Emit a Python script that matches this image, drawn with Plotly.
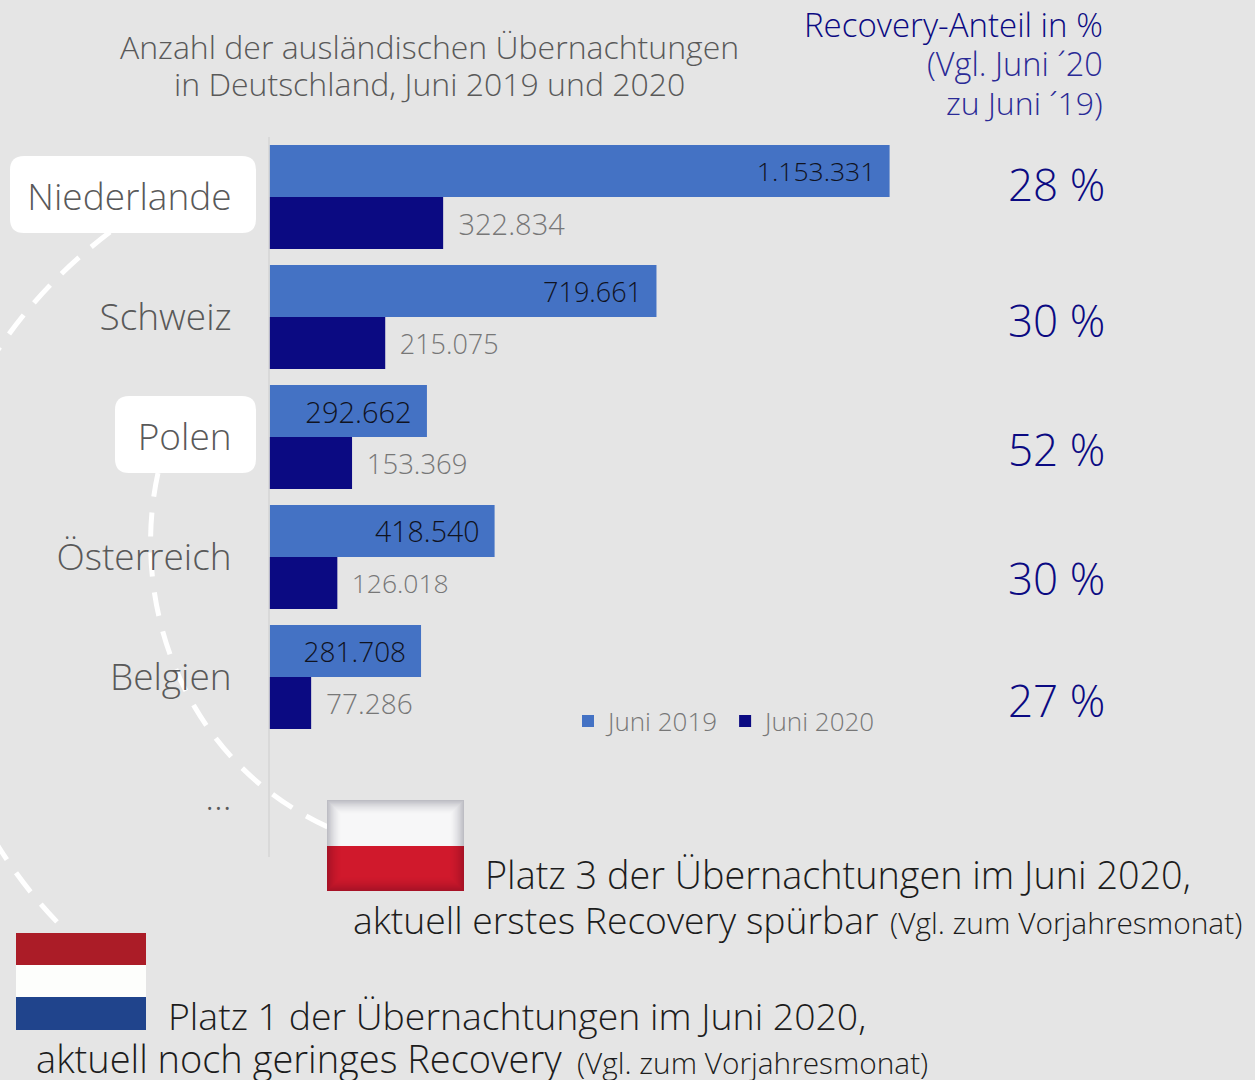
import plotly.graph_objects as go

W, H = 1255, 1080
FONT = "Open Sans"
BG = "#e5e5e5"

categories = ["Niederlande", "Schweiz", "Polen", "Österreich", "Belgien", "..."]
juni_2019 = [1153331, 719661, 292662, 418540, 281708, None]
juni_2020 = [322834, 215075, 153369, 126018, 77286, None]
recovery = [28, 30, 52, 30, 27]
recovery_y = [184, 320, 449, 578, 700]
label_sizes_2019 = [26.5, 27, 29, 28.5, 28, 28]
label_sizes_2020 = [29, 27, 27.5, 26.5, 28, 28]

def fmt(v):
    return f"{v:,}".replace(",", ".") if v is not None else ""

def px(x): return x / W
def py(y): return 1 - y / H

NB = "\u00a0"
TH = "\u2009"
fig = go.Figure()
fig.add_trace(go.Bar(
    name="Juni 2019", y=categories, x=juni_2019, orientation="h",
    marker=dict(color="#4472c4", line=dict(width=0)),
    text=[fmt(v) + NB + TH if v else "" for v in juni_2019],
    textposition="inside", insidetextanchor="end", textangle=0, constraintext="none",
    textfont=dict(family=FONT, size=label_sizes_2019, color="#10131f", weight=300), hoverinfo="skip"))
fig.add_trace(go.Bar(
    name="Juni 2020", y=categories, x=juni_2020, orientation="h",
    marker=dict(color="#0b0a82", line=dict(width=0)),
    text=[NB + TH + fmt(v) if v else "" for v in juni_2020],
    textposition="outside", textangle=0, constraintext="none", cliponaxis=False,
    textfont=dict(family=FONT, size=label_sizes_2020, color="#777777", weight=300), hoverinfo="skip"))

def path_shape(path, **kw):
    return dict(type="path", path=path, xref="paper", yref="paper", layer="below", **kw)

def bez(*pts):
    s = f"M{px(pts[0][0])},{py(pts[0][1])} C"
    s += " ".join(f"{px(a)},{py(b)}" for a, b in pts[1:])
    return s

def rrect(x0, y0, x1, y1, r):
    p = lambda a, b: f"{px(a)},{py(b)}"
    return (f"M{p(x0+r,y0)} L{p(x1-r,y0)} Q{p(x1,y0)} {p(x1,y0+r)} L{p(x1,y1-r)} Q{p(x1,y1)} {p(x1-r,y1)} "
            f"L{p(x0+r,y1)} Q{p(x0,y1)} {p(x0,y1-r)} L{p(x0,y0+r)} Q{p(x0,y0)} {p(x0+r,y0)} Z")

def rect(x0, y0, x1, y1, fill, line=None, lw=0):
    return dict(type="rect", xref="paper", yref="paper", layer="below",
                x0=px(x0), x1=px(x1), y0=py(y0), y1=py(y1), fillcolor=fill,
                line=dict(width=lw, color=line or "rgba(0,0,0,0)"))

dash = dict(color="white", width=5, dash="24px,16px")
shapes = [
    path_shape(bez((158, 473), (130, 600), (180, 760), (330, 828)), line=dash),
    path_shape(bez((110, 232), (-150, 430), (-110, 760), (68, 933)), line=dash),
    path_shape(rrect(10, 156, 256, 233, 14), fillcolor="white", line=dict(width=0)),
    path_shape(rrect(115, 396, 256, 473, 14), fillcolor="white", line=dict(width=0)),
    rect(327, 800, 464, 846, "#f7f7f8"),
    rect(327, 846, 464, 891, "#d0192c"),
    rect(16, 933, 146, 965, "#ab1c27"),
    rect(16, 965, 146, 997, "#fdfefc"),
    rect(16, 997, 146, 1030, "#20448c"),
]
N = 14
for i in range(N):
    a = 0.42 * (1 - i / N) ** 1.6
    c1, c2 = f"rgba(110,110,125,{a:.3f})", f"rgba(110,10,30,{a:.3f})"
    t, l, r, b = 800 + i, 327 + i, 464 - i, 891 - i
    shapes += [
        rect(l, t, r, t + 1, c1), rect(l, t + 1, l + 1, 846, c1), rect(r - 1, t + 1, r, 846, c1),
        rect(l, b - 1, r, b, c2), rect(l, 846, l + 1, b - 1, c2), rect(r - 1, 846, r, b - 1, c2),
    ]

def note(text, x, y, size, color, anchor="left"):
    return dict(text=text, x=px(x), y=py(y), xref="paper", yref="paper", xanchor=anchor, yanchor="middle",
                showarrow=False, align=anchor, font=dict(family=FONT, size=size, color=color, weight=300),
                borderpad=0, borderwidth=0)

GREY = "#595959"
NAVY = "#0b0a82"
DARK = "#1c1c1c"
annotations = [
    note("Anzahl der ausländischen Übernachtungen", 430, 46, 32, GREY, "center"),
    note("in Deutschland, Juni 2019 und 2020", 430, 84, 32, GREY, "center"),
    note("Recovery-Anteil in %", 1103, 25, 33, NAVY, "right"),
    note("(Vgl. Juni ´20", 1103, 64, 32.5, "#2a2a96", "right"),
    note("zu Juni ´19)", 1103, 102, 32, "#2a2a96", "right"),
    note("Platz 3 der Übernachtungen im Juni 2020,", 485, 874, 37.8, DARK),
    note("aktuell erstes Recovery spürbar", 353, 919, 37.3, DARK),
    note("(Vgl. zum Vorjahresmonat)", 890, 922, 29.9, DARK),
    note("Platz 1 der Übernachtungen im Juni 2020,", 168, 1015, 37.4, DARK),
    note("aktuell noch geringes Recovery", 36, 1058, 38, DARK),
    note("(Vgl. zum Vorjahresmonat)", 577, 1062, 29.8, DARK),
]
annotations += [note(f"{v} %", 1105, y, 44, NAVY, "right") for v, y in zip(recovery, recovery_y)]

fig.update_layout(
    width=W, height=H, autosize=False,
    margin=dict(l=0, r=0, t=0, b=0, pad=0),
    paper_bgcolor=BG, plot_bgcolor=BG,
    barmode="group", bargap=16 / 120, bargroupgap=0,
    showlegend=True,
    legend=dict(orientation="h", x=px(568), y=py(721), xanchor="left", yanchor="middle",
                bgcolor="rgba(0,0,0,0)", font=dict(family=FONT, size=26, color="#777777", weight=300),
                traceorder="normal", itemclick=False, itemdoubleclick=False),
    shapes=shapes, annotations=annotations,
    xaxis=dict(domain=[px(269.6), 1], range=[0, 1153331 * (W - 269.6) / 620], visible=False, fixedrange=True),
    yaxis=dict(domain=[py(857), py(137)], type="category", categoryorder="array", categoryarray=categories,
               range=[5.5, -0.5], showgrid=False, zeroline=False, showline=False, ticks="",
               tickfont=dict(family=FONT, size=37, color=GREY, weight=300), ticklabelstandoff=37, fixedrange=True),
)
fig.add_shape(type="line", xref="paper", yref="paper", x0=px(269), x1=px(269), y0=py(137), y1=py(857),
              line=dict(color="#d9d9d9", width=2), layer="below")

fig.write_html("out.html", config=dict(displayModeBar=False),
               post_script="document.body.style.margin='0';document.documentElement.style.overflow='hidden';")
